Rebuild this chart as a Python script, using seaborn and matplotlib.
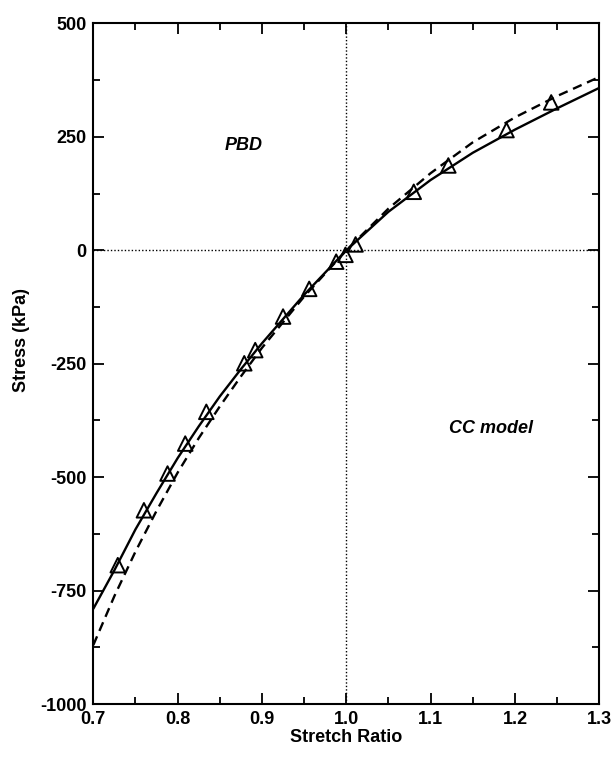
import matplotlib
matplotlib.use("Agg")
import matplotlib.pyplot as plt
from matplotlib.ticker import MultipleLocator
import seaborn as sns
import pandas as pd

# Experimental data (triangles)
exp_x = [0.729, 0.760, 0.788, 0.809, 0.834, 0.879, 0.892, 0.925, 0.956,
         0.988, 0.999, 1.011, 1.080, 1.121, 1.190, 1.243]
exp_y = [-694, -573, -492, -426, -356, -249, -220, -146, -85,
         -25, -10, 13, 129, 187, 265, 326]

# CC model (solid) curve
cc_x = [0.70, 0.725, 0.75, 0.775, 0.80, 0.825, 0.85, 0.875, 0.90, 0.95, 1.00,
        1.05, 1.10, 1.15, 1.20, 1.25, 1.30]
cc_y = [-790, -705, -615, -535, -458, -388, -322, -262, -205, -98, 0,
        85, 155, 215, 266, 313, 358]

# PBD (dashed) curve
pbd_x = [0.70, 0.725, 0.75, 0.775, 0.80, 0.825, 0.85, 0.875, 0.90, 0.95, 1.00,
         1.05, 1.10, 1.15, 1.20, 1.25, 1.30]
pbd_y = [-870, -762, -664, -574, -490, -414, -344, -278, -215, -102, 0,
         92, 170, 238, 293, 340, 382]

x_ticks = [0.7, 0.8, 0.9, 1.0, 1.1, 1.2, 1.3]
x_ticklabels = ["0.7", "0.8", "0.9", "1.0", "1.1", "1.2", "1.3"]
y_ticks = [-1000, -750, -500, -250, 0, 250, 500]
y_ticklabels = ["-1000", "-750", "-500", "-250", "0", "250", "500"]

sns.set_theme(style="ticks")
plt.rcParams['font.family'] = ['Liberation Sans', 'DejaVu Sans']

fig = plt.figure(figsize=(6.14, 7.57), dpi=100)
ax = fig.add_axes([0.152, 0.070, 0.824, 0.899])

# reference lines
ax.axvline(1.0, color="black", lw=1.0, ls=(0, (1, 1.5)), zorder=1)
ax.axhline(0, color="black", lw=1.0, ls=(0, (1, 1.5)), zorder=1)

cc_df = pd.DataFrame({"x": cc_x, "y": cc_y})
pbd_df = pd.DataFrame({"x": pbd_x, "y": pbd_y})
exp_df = pd.DataFrame({"x": exp_x, "y": exp_y})

sns.lineplot(data=cc_df, x="x", y="y", ax=ax, color="black", lw=1.7,
             sort=True, estimator=None, zorder=3)
sns.lineplot(data=pbd_df, x="x", y="y", ax=ax, color="black", lw=1.7,
             sort=True, estimator=None, zorder=3)
ax.lines[-1].set_dashes([4, 2.5])
sns.scatterplot(data=exp_df, x="x", y="y", ax=ax, marker="^", s=110,
                facecolors="none", edgecolor="black", linewidth=1.4, zorder=4)

ax.set_xlim(0.7, 1.3)
ax.set_ylim(-1000, 500)
ax.set_xticks(x_ticks)
ax.set_xticklabels(x_ticklabels)
ax.set_yticks(y_ticks)
ax.set_yticklabels(y_ticklabels)
ax.xaxis.set_minor_locator(MultipleLocator(0.05))
ax.yaxis.set_minor_locator(MultipleLocator(125))

ax.tick_params(which="both", direction="in", top=True, right=True,
               color="black", width=1.3)
ax.tick_params(which="major", length=8, labelsize=13)
ax.tick_params(which="minor", length=5)
ax.tick_params(axis="x", which="major", pad=5)
ax.tick_params(axis="y", which="major", pad=5)
for lbl in ax.get_xticklabels() + ax.get_yticklabels():
    lbl.set_fontweight("bold")
    lbl.set_color("black")

for sp in ax.spines.values():
    sp.set_visible(True)
    sp.set_linewidth(1.5)
    sp.set_color("black")

ax.set_xlabel("Stretch Ratio", fontsize=13, fontweight="bold", color="black", labelpad=1)
ax.set_ylabel("Stress (kPa)", fontsize=13, fontweight="bold", color="black")
ax.yaxis.set_label_coords(-0.125, 0.535)

ax.text(0.878, 230, "PBD", fontsize=13, fontstyle="italic", fontweight="bold",
        ha="center", va="center", color="black")
ax.text(1.172, -392, "CC model", fontsize=13, fontstyle="italic", fontweight="bold",
        ha="center", va="center", color="black")

fig.savefig("out.png", dpi=100)
